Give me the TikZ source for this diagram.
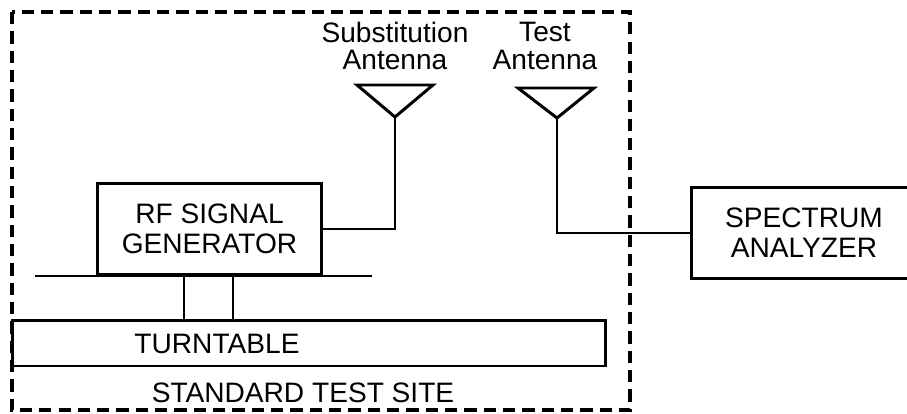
\documentclass[tikz,border=0pt]{standalone}
\usepackage{fontspec}
\setmainfont{Liberation Sans}
\begin{document}
\begin{tikzpicture}[x=0.02cm,y=-0.02cm,
		box/.style={draw,line width=1.7pt,minimum width=4.5cm,minimum height=1.82cm,align=center,font=\fontsize{16}{17}\selectfont},
		txt/.style={align=center,font=\fontsize{16}{15.5}\selectfont},
		wire/.style={line width=1.7pt},
		site/.style={line width=1.8pt,dash pattern=on 7pt off 4pt}]
		\useasboundingbox (0,0) rectangle (907,413);
		\clip (0,0) rectangle (907,413);
		% test site border
		\draw[site] (12,12) rectangle (630,410);
		\node[txt] (sitelabel) at (303,393) {STANDARD TEST SITE};
		% turntable and stand
		\node[draw,line width=1.7pt,minimum width=11.88cm,minimum height=0.92cm] (table) at (309,343) {};
		\node[txt] (tablelabel) at (217,344) {TURNTABLE};
		\node[box] (gen) at (209.5,229) {RF SIGNAL\\GENERATOR};
		\coordinate (shelfL) at (35,276);
		\coordinate (shelfR) at (372,276);
		\draw[wire] (shelfL) -- (shelfR);
		\draw[wire] (184,276) -- (184,0 |- table.north);
		\draw[wire] (233,276) -- (233,0 |- table.north);
		% antennas
		\coordinate (subant) at (395,117);
		\draw[wire,line join=miter] (357,85) -- (433,85) -- (subant) -- cycle;
		\node[txt] (sublabel) at (395,46) {Substitution\\Antenna};
		\coordinate (testant) at (557,118);
		\draw[wire,line join=miter] (518,88) -- (594,88) -- (testant) -- cycle;
		\node[txt] (testlabel) at (545,46) {Test\\Antenna};
		% analyzer
		\node[box] (spec) at (804,233) {SPECTRUM\\ANALYZER};
		% feed lines
		\draw[wire] (subant) |- (gen.east);
		\draw[wire] (testant) |- (spec.west);
	\end{tikzpicture}
\end{document}
